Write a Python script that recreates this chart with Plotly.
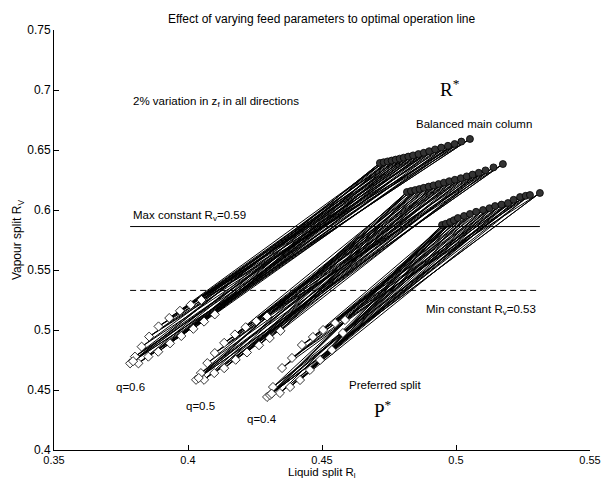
import plotly.graph_objects as go

# ---- data ----
q_labels = ["q=0.6", "q=0.5", "q=0.4"]

# preferred split P* (diamonds) per band
D6x = [0.3784,0.3815,0.3802,0.3852,0.3827,0.3889,0.3855,0.3933,0.3890,0.3975,0.3930,0.4020,0.3970,0.4060,0.4010,0.4100,0.4050,0.3795]
D6y = [0.4722,0.4722,0.4778,0.4778,0.4861,0.4819,0.4945,0.4889,0.5030,0.4950,0.5100,0.5010,0.5160,0.5070,0.5210,0.5130,0.5250,0.4740]
D5x = [0.4030,0.4060,0.4048,0.4098,0.4072,0.4135,0.4100,0.4178,0.4135,0.4220,0.4175,0.4265,0.4215,0.4305,0.4255,0.4345,0.4295,0.4040]
D5y = [0.4585,0.4585,0.4641,0.4641,0.4724,0.4682,0.4808,0.4752,0.4893,0.4813,0.4963,0.4873,0.5023,0.4933,0.5073,0.4993,0.5113,0.4600]
D4x = [0.4295,0.4306,0.4317,0.4343,0.4351,0.4381,0.4388,0.4418,0.4425,0.4455,0.4466,0.4493,0.4504,0.4537,0.4549,0.4578,0.4586,0.4312]
D4y = [0.4442,0.4458,0.4525,0.4475,0.4683,0.4525,0.4767,0.4583,0.4875,0.4667,0.4942,0.4750,0.5000,0.4833,0.5058,0.4975,0.5083,0.4470]

# balanced main column R* (circles) per band
C6x = [0.4716,0.4730,0.4745,0.4760,0.4775,0.4790,0.4805,0.4822,0.4840,0.4860,0.4880,0.4900,0.4922,0.4945,0.4970,0.4995,0.5020,0.5052]
C6y = [0.6392,0.6398,0.6405,0.6412,0.6420,0.6428,0.6436,0.6445,0.6455,0.6466,0.6477,0.6490,0.6505,0.6520,0.6535,0.6550,0.6570,0.6592]
C5x = [0.4817,0.4832,0.4848,0.4864,0.4880,0.4898,0.4916,0.4935,0.4955,0.4975,0.4996,0.5018,0.5040,0.5062,0.5085,0.5110,0.5140,0.5175]
C5y = [0.6150,0.6158,0.6166,0.6175,0.6185,0.6195,0.6205,0.6216,0.6228,0.6240,0.6252,0.6265,0.6280,0.6295,0.6310,0.6330,0.6355,0.6383]
C4x = [0.4948,0.4962,0.4978,0.4992,0.5007,0.5030,0.5052,0.5075,0.5101,0.5125,0.5146,0.5170,0.5194,0.5215,0.5239,0.5260,0.5276,0.5313]
C4y = [0.5875,0.5885,0.5900,0.5915,0.5933,0.5950,0.5967,0.5985,0.6000,0.6015,0.6033,0.6045,0.6058,0.6085,0.6108,0.6118,0.6125,0.6142]

max_rv = 0.5862
min_rv = 0.5330
rl_range = [0.3784, 0.5313]

x_ticks = [0.35, 0.4, 0.45, 0.5, 0.55]
x_ticktext = ["0.35", "0.4", "0.45", "0.5", "0.55"]
y_ticks = [0.4, 0.45, 0.5, 0.55, 0.6, 0.65, 0.7, 0.75]
y_ticktext = ["0.4", "0.45", "0.5", "0.55", "0.6", "0.65", "0.7", "0.75"]

FONT = "Liberation Sans, Arial, Helvetica, sans-serif"
SERIF = "Liberation Serif, Times New Roman, serif"
fig = go.Figure()

bands = [(D6x, D6y, C6x, C6y), (D5x, D5y, C5x, C5y), (D4x, D4y, C4x, C4y)]
for dx, dy, cx, cy in bands:
    n = len(cx)
    lx, ly = [], []
    # each preferred split joined to its own balanced point, the mirrored one and a shifted one
    for i, (a, b) in enumerate(zip(dx, dy)):
        for j in sorted({i, n - 1 - i, (i + n // 2) % n}):
            lx += [a, cx[j], None]
            ly += [b, cy[j], None]
    fig.add_trace(go.Scatter(x=lx, y=ly, mode="lines",
                             line=dict(color="black", width=1.0),
                             showlegend=False, hoverinfo="skip"))
for dx, dy, cx, cy in bands:
    fig.add_trace(go.Scatter(x=dx, y=dy, mode="markers",
                             marker=dict(symbol="diamond", size=7, color="white",
                                         line=dict(color="black", width=0.8)),
                             showlegend=False))
    fig.add_trace(go.Scatter(x=cx, y=cy, mode="markers",
                             marker=dict(symbol="circle", size=7, color="#333",
                                         line=dict(color="black", width=0.8)),
                             showlegend=False))

# constant R_v lines
fig.add_trace(go.Scatter(x=rl_range, y=[max_rv, max_rv], mode="lines",
                         line=dict(color="black", width=1), showlegend=False))
fig.add_trace(go.Scatter(x=rl_range, y=[min_rv, min_rv], mode="lines",
                         line=dict(color="black", width=1, dash="6px,4px"), showlegend=False))

ann = []
def txt(x, y, t, size=11.5, xanchor="left", family=FONT, yanchor="middle"):
    ann.append(dict(x=x, y=y, xref="x", yref="y", text=t, showarrow=False,
                    xanchor=xanchor, yanchor=yanchor,
                    font=dict(family=family, size=size, color="black")))

txt(0.3786, 0.6900, "2% variation in z<sub>f</sub> in all directions")
txt(0.4978, 0.7017, "R<sup>*</sup>", size=19, xanchor="center", family=SERIF)
txt(0.5067, 0.6717, "Balanced main column", xanchor="center")
txt(0.3786, 0.5950, "Max constant R<sub>v</sub>=0.59")
txt(0.4880, 0.5170, "Min constant R<sub>v</sub>=0.53")
txt(0.4735, 0.4545, "Preferred split", xanchor="center")
txt(0.4729, 0.4345, "P<sup>*</sup>", size=19, xanchor="center", family=SERIF)
txt(0.3787, 0.4528, q_labels[0], xanchor="center")
txt(0.4045, 0.4370, q_labels[1], xanchor="center")
txt(0.4276, 0.4260, q_labels[2], xanchor="center")

# axis titles placed as paper annotations
ann.append(dict(x=0.5, y=-0.0548, xref="paper", yref="paper", showarrow=False,
                text="Liquid split R<sub>l</sub>", xanchor="center", yanchor="middle",
                font=dict(family=FONT, size=11.5, color="black")))
ann.append(dict(x=-0.067, y=0.5, xref="paper", yref="paper", showarrow=False,
                text="Vapour split R<sub>V</sub>", textangle=-90,
                xanchor="center", yanchor="middle",
                font=dict(family=FONT, size=12, color="black")))

fig.update_layout(
    width=601, height=482,
    margin=dict(l=54, r=11, t=30, b=32),
    paper_bgcolor="white", plot_bgcolor="white",
    font=dict(family=FONT, size=12, color="black"),
    title=dict(text="Effect of varying feed parameters to optimal operation line",
               x=0.535, xanchor="center", y=0.9606, yanchor="middle",
               font=dict(family=FONT, size=12, color="black")),
    annotations=ann,
    xaxis=dict(range=[0.35, 0.55], tickvals=x_ticks, ticktext=x_ticktext,
               showgrid=False, zeroline=False, showline=True, linecolor="black",
               linewidth=1, ticks="inside", ticklen=5, tickcolor="black",
               ticklabeloverflow="allow", automargin=False,
               tickfont=dict(family=FONT, size=11)),
    yaxis=dict(range=[0.4, 0.75], tickvals=y_ticks, ticktext=y_ticktext,
               showgrid=False, zeroline=False, showline=True, linecolor="black",
               linewidth=1, ticks="inside", ticklen=5, tickcolor="black",
               ticklabeloverflow="allow", automargin=False,
               tickfont=dict(family=FONT, size=12)),
)

fig.write_html("out.html")
